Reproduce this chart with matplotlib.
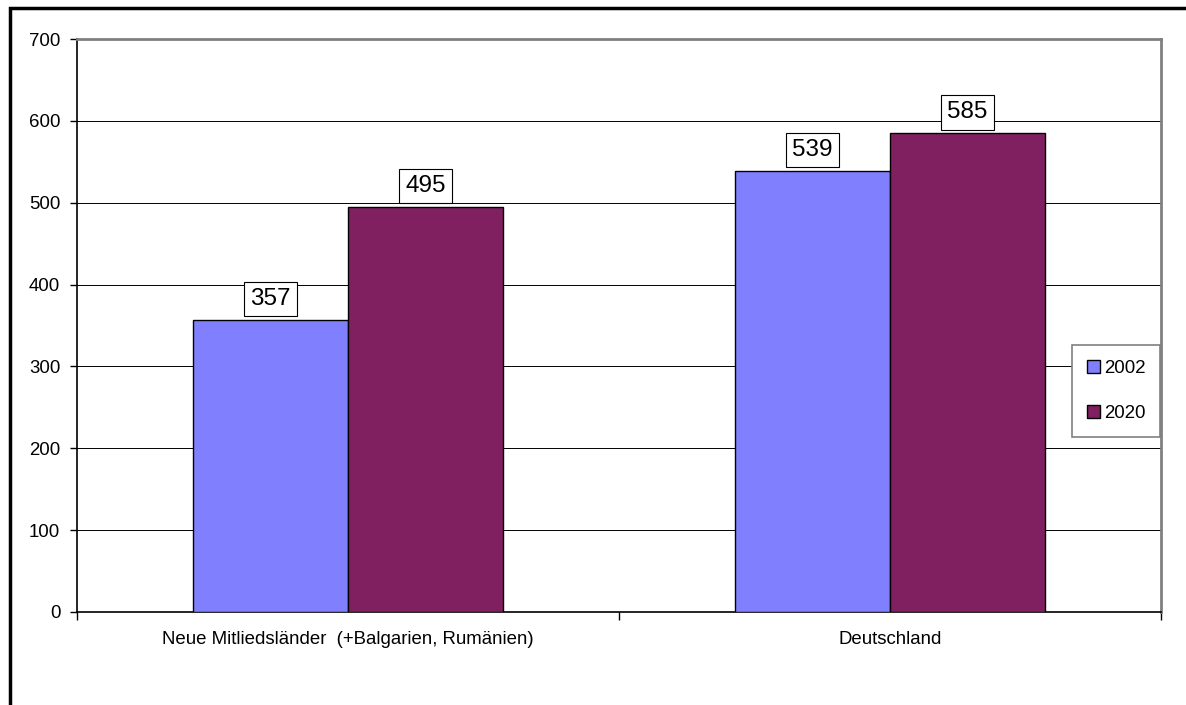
import matplotlib.pyplot as plt
from matplotlib.patches import Rectangle
import numpy as np

plt.rcParams['font.family'] = ['Liberation Sans', 'DejaVu Sans']

# data
categories = ['Neue Mitliedsländer  (+Balgarien, Rumänien)', 'Deutschland']
series = ['2002', '2020']
values_2002 = [357, 539]
values_2020 = [495, 585]
colors = ['#8080FF', '#802060']

fig = plt.figure(figsize=(11.86, 7.05), dpi=100)
ax = fig.add_axes([77 / 1186, 1 - 612 / 705, 1084 / 1186, 573 / 705])

x = np.arange(len(categories))
w = 0.286
for i, (vals, col) in enumerate(zip([values_2002, values_2020], colors)):
    b = ax.bar(x + (i - 0.5) * w, vals, width=w, align='center', color=col,
               edgecolor='black', linewidth=1.0, label=series[i], zorder=3)
    for rect, v in zip(b, vals):
        ax.annotate(str(v), (rect.get_x() + rect.get_width() / 2, v),
                    xytext=(0, 7), textcoords='offset points',
                    ha='center', va='bottom', fontsize=17.5, zorder=5,
                    bbox=dict(boxstyle='square,pad=0.26', fc='white',
                              ec='black', lw=0.8))

ax.set_xlim(-0.5, 1.5)
ax.set_ylim(0, 700)
ax.set_yticks(range(0, 701, 100))
ax.set_xticks(x)
ax.set_xticklabels(categories)
ax.set_xticks([-0.5, 0.5, 1.5], minor=True)
ax.tick_params(axis='x', which='major', length=0, pad=14, labelsize=13.4)
ax.tick_params(axis='x', which='minor', length=6, width=1, direction='out')
ax.tick_params(axis='y', length=5, width=1, pad=7, labelsize=13.4)

ax.yaxis.grid(True, color='black', linewidth=0.7, zorder=0)
ax.set_axisbelow(True)

for s in ['top', 'right']:
    ax.spines[s].set_color('#808080')
    ax.spines[s].set_linewidth(2)
for s in ['left', 'bottom']:
    ax.spines[s].set_color('black')
    ax.spines[s].set_linewidth(1.2)

leg = ax.legend(loc='upper left', bbox_to_anchor=(1072 / 1186, 1 - 345 / 705),
                bbox_transform=fig.transFigure, borderaxespad=0, fontsize=13.4,
                frameon=True, fancybox=False, edgecolor='#808080', framealpha=1,
                handlelength=0.7, handleheight=0.7, handletextpad=0.2,
                labelspacing=1.5, borderpad=0.8)
leg.get_frame().set_linewidth(1.2)
leg.set_zorder(6)

# outer chart border (only left and top visible)
fig.patches.append(Rectangle((9.5 / 1186, -0.2), 1.5, 1.2 - 8 / 705,
                             transform=fig.transFigure, fill=False,
                             edgecolor='black', linewidth=2.5))

fig.savefig('out.png', dpi=100)
